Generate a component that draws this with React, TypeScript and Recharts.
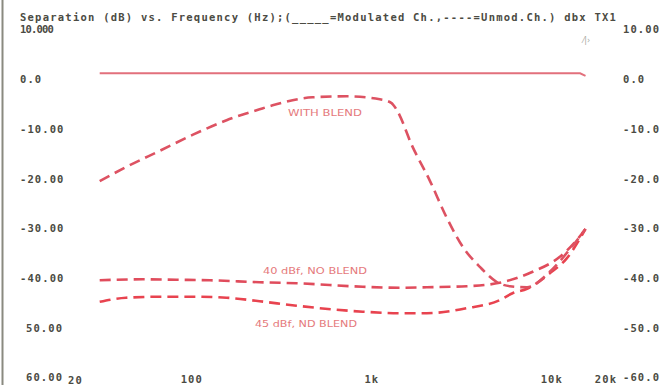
import { LineChart, Line, XAxis, YAxis } from "recharts";

// frequency (Hz) / separation (dB) readings for each trace
const flatFreq = [30, 1000, 14000, 15000];
const flatDb = [0.9, 0.9, 0.9, 0.4];

const withBlendFreq = [30, 42, 65, 99, 152, 232, 274, 457, 707, 1080, 1250, 1340, 1640, 2040, 2530, 3120, 3880, 4800, 5700, 7100, 9500, 12200, 15000];
const withBlendDb = [-20.7, -17.9, -14.6, -11.4, -8.5, -6.3, -5.5, -3.9, -3.7, -4.3, -5.0, -6.4, -13.8, -20.5, -27.9, -33.9, -37.9, -40.9, -41.8, -42.0, -38.9, -34.5, -30.3];

const noBlend40Freq = [30, 52, 80, 123, 232, 373, 868, 1390, 1970, 3280, 5000, 7630, 10800, 13000, 15000];
const noBlend40Db = [-40.6, -40.4, -40.5, -40.6, -41.0, -41.2, -41.9, -42.1, -42.0, -41.8, -41.1, -38.9, -35.9, -33.1, -30.3];

const noBlend45Freq = [30, 42, 65, 99, 152, 232, 372, 868, 1390, 1970, 3280, 5000, 5900, 7100, 9500, 11800, 15000];
const noBlend45Db = [-44.9, -44.1, -43.9, -43.9, -44.1, -44.8, -45.7, -46.9, -47.2, -47.2, -46.2, -44.6, -43.2, -42.3, -39.2, -36.2, -30.3];

const xTicks = [20, 100, 1000, 10000, 20000];
const xTickLabels = ["20", "100", "1k", "10k", "20k"];
const yTicks = [10, 0, -10, -20, -30, -40, -50, -60];
const leftTickLabels = ["10.000", "0.0", "-10.00", "-20.00", "-30.00", "-40.00", "50.00", "60.00"];
const rightTickLabels = ["10.00", "0.0", "-10.0", "-20.0", "-30.0", "-40.0", "-50.0", "-60.0"];

const title = "Separation (dB) vs. Frequency (Hz);(_____=Modulated Ch.,----=Unmod.Ch.) dbx TX1";

const toPoints = (freq: number[], db: number[]) => freq.map((f, i) => ({ f, db: db[i] }));

const mono = {
  fontFamily: "'DejaVu Sans Mono', monospace",
  fontWeight: 700,
  fontSize: 10.5,
  letterSpacing: 1.1,
  fill: "#4b4b43",
};

// one tick draws the label on both sides of the plot
const SideTick = ({ y, payload }: any) => {
  const i = yTicks.indexOf(payload.value);
  const left = leftTickLabels[i];
  const x = left.startsWith("-") || left.length !== 5 ? 20 : 26;
  return (
    <g>
      <text x={x} y={y + 1} dominantBaseline="central" textAnchor="start" {...mono}
        textLength={left === "10.000" ? 35 : undefined}>
        {left}
      </text>
      <text x={623} y={y + 1} dominantBaseline="central" textAnchor="start" {...mono}>
        {rightTickLabels[i]}
      </text>
    </g>
  );
};

const BottomTick = ({ x, payload }: any) => {
  const i = xTicks.indexOf(payload.value);
  const first = i === 0;
  return (
    <text x={first ? x : x - 2} y={first ? 379.5 : 378.5} dominantBaseline="central"
      textAnchor={first ? "start" : "middle"} {...mono}>
      {xTickLabels[i]}
    </text>
  );
};

const labelStyle = {
  fontFamily: "'DejaVu Sans', sans-serif",
  fontSize: 9.5,
  fill: "#e57a7c",
};

export default function App() {
  return (
    <div style={{ position: "absolute", left: 0, top: 0, width: 660, height: 385, background: "#fff" }}>
      <LineChart width={660} height={385} margin={{ top: 28, right: 52, left: 0, bottom: 0 }}>
        <XAxis dataKey="f" type="number" scale="log" domain={[20, 20000]} ticks={xTicks}
          allowDataOverflow axisLine={false} tickLine={false} height={8} tick={<BottomTick />} />
        <YAxis type="number" domain={[-60, 10]} ticks={yTicks} width={68}
          axisLine={false} tickLine={false} tick={<SideTick />} />
        <Line data={toPoints(flatFreq, flatDb)} dataKey="db" type="linear"
          stroke="#e2707c" strokeWidth={2} dot={false} isAnimationActive={false} />
        <Line data={toPoints(noBlend40Freq, noBlend40Db)} dataKey="db" type="monotone"
          stroke="#e04c5c" strokeWidth={2.6} strokeDasharray="11 6" dot={false} isAnimationActive={false} />
        <Line data={toPoints(noBlend45Freq, noBlend45Db)} dataKey="db" type="monotone"
          stroke="#e8434f" strokeWidth={2.6} strokeDasharray="11 6" dot={false} isAnimationActive={false} />
        <Line data={toPoints(withBlendFreq, withBlendDb)} dataKey="db" type="monotone"
          stroke="#dd5262" strokeWidth={2.6} strokeDasharray="11 6" dot={false} isAnimationActive={false} />
      </LineChart>
      <svg width={660} height={385} style={{ position: "absolute", left: 0, top: 0, pointerEvents: "none" }}>
        <line x1={2.5} y1={0} x2={2.5} y2={385} stroke="#8a8a80" strokeWidth={2} />
        <text x={20} y={17} dominantBaseline="central" {...mono} textLength={597} lengthAdjust="spacing">
          {title}
        </text>
        <text x={583} y={40} dominantBaseline="central" fontFamily="'DejaVu Sans', sans-serif"
          fontSize={8} fill="#a8a8a0">⁄|›</text>
        <text x={325} y={112.5} dominantBaseline="central" textAnchor="middle" {...labelStyle}
          textLength={74} lengthAdjust="spacingAndGlyphs">WITH BLEND</text>
        <text x={315} y={270} dominantBaseline="central" textAnchor="middle" {...labelStyle}
          textLength={104} lengthAdjust="spacingAndGlyphs">40 dBf, NO BLEND</text>
        <text x={306} y={323} dominantBaseline="central" textAnchor="middle" {...labelStyle}
          textLength={102} lengthAdjust="spacingAndGlyphs">45 dBf, ND BLEND</text>
      </svg>
    </div>
  );
}
